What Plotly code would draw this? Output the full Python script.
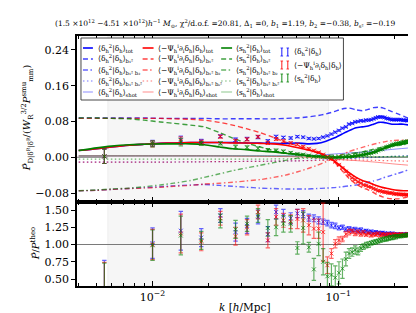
import plotly.graph_objects as go

# ---------------- data ----------------
k_th = [0.004, 0.005, 0.006, 0.0075, 0.009, 0.011, 0.013, 0.016, 0.019, 0.023, 0.027, 0.032,
        0.038, 0.045, 0.052, 0.060, 0.068, 0.077, 0.086, 0.095, 0.105, 0.115, 0.125, 0.135,
        0.145, 0.155, 0.165, 0.175, 0.185, 0.195, 0.210, 0.225, 0.240, 0.260]
blue_tot = [0.015, 0.019, 0.023, 0.027, 0.029, 0.031, 0.032, 0.033, 0.033, 0.033, 0.033, 0.032,
            0.032, 0.031, 0.031, 0.032, 0.030, 0.031, 0.036, 0.043, 0.052, 0.060, 0.066, 0.068,
            0.070, 0.074, 0.078, 0.078, 0.076, 0.074, 0.074, 0.074, 0.072, 0.069]
blue_b1 = [0.088, 0.088, 0.088, 0.088, 0.088, 0.087, 0.087, 0.087, 0.087, 0.086, 0.086, 0.086,
           0.086, 0.086, 0.087, 0.088, 0.090, 0.093, 0.097, 0.102, 0.108, 0.110, 0.106, 0.104,
           0.107, 0.111, 0.112, 0.110, 0.106, 0.102, 0.097, 0.092, 0.087, 0.082]
blue_b2 = [-0.075, -0.074, -0.072, -0.070, -0.068, -0.066, -0.064, -0.062, -0.061, -0.063, -0.065, -0.067,
           -0.069, -0.070, -0.071, -0.071, -0.071, -0.070, -0.069, -0.068, -0.066, -0.064, -0.062, -0.059,
           -0.056, -0.053, -0.050, -0.046, -0.043, -0.040, -0.036, -0.032, -0.028, -0.024]
red_tot = [0.015, 0.019, 0.023, 0.027, 0.029, 0.031, 0.032, 0.033, 0.033, 0.033, 0.032, 0.032,
           0.031, 0.030, 0.027, 0.022, 0.017, 0.011, 0.003, -0.008, -0.022, -0.035, -0.045, -0.052,
           -0.056, -0.061, -0.065, -0.068, -0.070, -0.072, -0.074, -0.075, -0.075, -0.076]
red_b1 = [0.087, 0.087, 0.087, 0.087, 0.087, 0.087, 0.086, 0.085, 0.083, 0.078, 0.072, 0.064,
          0.055, 0.044, 0.034, 0.026, 0.018, 0.010, 0.002, -0.010, -0.030, -0.048, -0.060, -0.068,
          -0.073, -0.079, -0.085, -0.089, -0.092, -0.093, -0.093, -0.091, -0.088, -0.083]
red_b2 = [-0.075, -0.074, -0.072, -0.070, -0.069, -0.067, -0.065, -0.063, -0.060, -0.058, -0.056, -0.053,
          -0.050, -0.045, -0.040, -0.033, -0.026, -0.018, -0.010, -0.002, 0.006, 0.013, 0.018, 0.022,
          0.026, 0.029, 0.032, 0.034, 0.036, 0.037, 0.038, 0.038, 0.038, 0.037]
green_tot = [0.015, 0.021, 0.025, 0.028, 0.029, 0.030, 0.030, 0.030, 0.028, 0.023, 0.019, 0.017,
             0.014, 0.012, 0.009, 0.007, 0.004, 0.002, 0.000, -0.001, 0.000, 0.001, 0.003, 0.005,
             0.008, 0.011, 0.015, 0.019, 0.022, 0.025, 0.028, 0.030, 0.032, 0.034]
green_b1 = [0.088, 0.088, 0.087, 0.086, 0.083, 0.079, 0.076, 0.072, 0.068, 0.055, 0.043, 0.032,
            0.023, 0.015, 0.010, 0.006, 0.003, 0.001, 0.000, 0.001, 0.003, 0.006, 0.009, 0.012,
            0.015, 0.018, 0.021, 0.023, 0.025, 0.027, 0.029, 0.031, 0.033, 0.034]
green_b2 = [-0.075, -0.073, -0.071, -0.069, -0.066, -0.062, -0.058, -0.052, -0.045, -0.037, -0.030, -0.024,
            -0.018, -0.012, -0.007, -0.002, 0.001, 0.003, 0.004, 0.005, 0.006, 0.008, 0.010, 0.012,
            0.014, 0.016, 0.018, 0.020, 0.022, 0.024, 0.026, 0.028, 0.030, 0.032]

k_sm = [0.004, 0.01, 0.02, 0.04, 0.06, 0.08, 0.10, 0.13, 0.16, 0.20, 0.26]
blue_bs2 = [-0.011, -0.011, -0.010, -0.009, -0.008, -0.006, -0.004, -0.002, 0.000, 0.002, 0.004]
red_bs2 = [-0.011, -0.011, -0.010, -0.009, -0.008, -0.007, -0.006, -0.006, -0.007, -0.008, -0.009]
green_bs2 = [-0.004, -0.004, -0.004, -0.004, -0.003, -0.002, -0.001, 0.000, 0.001, 0.002, 0.003]
blue_shot = [0.003, 0.003, 0.003, 0.003, 0.003, 0.005, 0.008, 0.011, 0.014, 0.018, 0.022]
red_shot = [0.003, 0.003, 0.003, 0.002, 0.001, -0.002, -0.005, -0.008, -0.011, -0.015, -0.019]
green_shot = [0.003, 0.003, 0.003, 0.003, 0.003, 0.002, 0.002, 0.002, 0.001, 0.001, 0.001]

k_data = [0.0055, 0.0100, 0.0142, 0.0183, 0.0232, 0.0280, 0.0323, 0.0370, 0.0418, 0.0463,
          0.0507, 0.0555, 0.0603, 0.0648, 0.0695, 0.0740, 0.0785, 0.0830, 0.0875, 0.0920,
          0.0965, 0.1010, 0.1055, 0.1100, 0.1145, 0.1190, 0.1235, 0.1280, 0.1325, 0.1370,
          0.1415, 0.1460, 0.1505, 0.1550, 0.1595, 0.1640, 0.1685, 0.1730, 0.1775, 0.1820,
          0.1865, 0.1910, 0.1955, 0.2000, 0.2045, 0.2090, 0.2135, 0.2180, 0.2225, 0.2270,
          0.2315, 0.2360, 0.2405, 0.2450, 0.2495, 0.2540]
blue_data = [0.002, 0.031, 0.039, 0.036, 0.047, 0.039, 0.041, 0.045, 0.036, 0.046,
             0.044, 0.043, 0.046, 0.045, 0.042, 0.041, 0.042, 0.045, 0.048, 0.052,
             0.056, 0.060, 0.065, 0.068, 0.074, 0.076, 0.079, 0.080, 0.082, 0.081,
             0.083, 0.083, 0.084, 0.086, 0.088, 0.090, 0.090, 0.090, 0.089, 0.087,
             0.086, 0.085, 0.084, 0.084, 0.084, 0.084, 0.084, 0.084, 0.083, 0.083,
             0.083, 0.082, 0.082, 0.081, 0.080, 0.079]
red_data = [0.002, 0.030, 0.037, 0.034, 0.046, 0.036, 0.040, 0.046, 0.032, 0.041,
            0.036, 0.032, 0.029, 0.024, 0.019, 0.015, 0.011, 0.006, 0.001, -0.003,
            -0.010, -0.017, -0.024, -0.032, -0.040, -0.046, -0.050, -0.055, -0.058, -0.062,
            -0.063, -0.066, -0.067, -0.070, -0.072, -0.075, -0.075, -0.077, -0.078, -0.078,
            -0.080, -0.080, -0.080, -0.082, -0.082, -0.082, -0.083, -0.083, -0.083, -0.084,
            -0.084, -0.084, -0.084, -0.084, -0.085, -0.085]
green_data = [0.002, 0.030, 0.034, 0.031, 0.031, 0.023, 0.022, 0.020, 0.016, 0.015,
              0.013, 0.010, 0.007, 0.006, 0.004, 0.002, 0.002, 0.001, 0.000, 0.000,
              0.000, 0.000, 0.000, 0.001, 0.001, 0.002, 0.003, 0.004, 0.005, 0.006,
              0.007, 0.008, 0.009, 0.011, 0.012, 0.015, 0.017, 0.018, 0.021, 0.023,
              0.024, 0.026, 0.028, 0.029, 0.030, 0.031, 0.032, 0.032, 0.034, 0.034,
              0.035, 0.036, 0.036, 0.038, 0.038, 0.039]
err_data = [0.016, 0.0066, 0.0085, 0.0042, 0.0033, 0.0042, 0.0035, 0.0032, 0.0034, 0.0031,
            0.0028, 0.0025, 0.0022, 0.0020, 0.0019, 0.0018, 0.0018, 0.0018, 0.0017, 0.0017,
            0.0017, 0.0017, 0.0017, 0.0017, 0.0017, 0.0017, 0.0017, 0.0016, 0.0016, 0.0016,
            0.0016, 0.0016, 0.0016, 0.0016, 0.0016, 0.0016, 0.0016, 0.0016, 0.0015, 0.0015,
            0.0015, 0.0015, 0.0015, 0.0015, 0.0015, 0.0015, 0.0015, 0.0015, 0.0015, 0.0015,
            0.0015, 0.0015, 0.0015, 0.0015, 0.0015, 0.0015]

blue_ratio = [0.10, 1.02, 1.20, 1.10, 1.42, 1.18, 1.27, 1.40, 1.15, 1.47,
              1.42, 1.38, 1.45, 1.44, 1.39, 1.38, 1.35, 1.33, 1.31, 1.28,
              1.27, 1.24, 1.25, 1.22, 1.23, 1.21, 1.22, 1.20, 1.21, 1.19,
              1.20, 1.18, 1.19, 1.17, 1.18, 1.17, 1.16, 1.17, 1.16, 1.15,
              1.16, 1.15, 1.16, 1.15, 1.14, 1.15, 1.14, 1.15, 1.14, 1.14,
              1.15, 1.14, 1.15, 1.14, 1.15, 1.15]
blue_rerr = [0.67, 0.22, 0.28, 0.13, 0.10, 0.13, 0.11, 0.10, 0.11, 0.10,
             0.09, 0.08, 0.06, 0.05, 0.05, 0.05, 0.05, 0.04, 0.04, 0.04,
             0.04, 0.03, 0.03, 0.03, 0.03, 0.03, 0.03, 0.03, 0.03, 0.02,
             0.02, 0.02, 0.02, 0.02, 0.02, 0.02, 0.02, 0.02, 0.02, 0.02,
             0.02, 0.02, 0.02, 0.02, 0.02, 0.02, 0.02, 0.02, 0.02, 0.02,
             0.02, 0.02, 0.02, 0.02, 0.02, 0.02]
red_ratio = [0.08, 1.00, 1.16, 1.04, 1.38, 1.12, 1.25, 1.47, 1.06, 1.40,
             1.35, 1.33, 1.37, 1.35, 1.28, 1.23, 1.23, 1.18, 0.70, 0.87,
             1.01, 1.06, 1.08, 1.15, 1.18, 1.19, 1.16, 1.18, 1.15, 1.17,
             1.14, 1.16, 1.13, 1.15, 1.14, 1.16, 1.13, 1.15, 1.14, 1.13,
             1.15, 1.14, 1.13, 1.15, 1.14, 1.13, 1.14, 1.15, 1.14, 1.13,
             1.14, 1.15, 1.14, 1.14, 1.15, 1.14]
red_rerr = [0.66, 0.22, 0.28, 0.13, 0.10, 0.13, 0.11, 0.10, 0.11, 0.12,
            0.10, 0.10, 0.14, 0.17, 0.14, 0.14, 0.14, 0.42, 0.12, 0.07,
            0.06, 0.05, 0.04, 0.04, 0.04, 0.03, 0.03, 0.03, 0.03, 0.03,
            0.02, 0.02, 0.02, 0.02, 0.02, 0.02, 0.02, 0.02, 0.02, 0.02,
            0.02, 0.02, 0.02, 0.02, 0.02, 0.02, 0.02, 0.02, 0.02, 0.02,
            0.02, 0.02, 0.02, 0.02, 0.02, 0.02]
green_ratio = [0.07, 0.99, 1.13, 1.06, 1.34, 1.22, 1.30, 1.42, 1.24, 1.25,
               1.30, 1.30, 0.95, 1.24, 0.96, 0.64, 1.01, 0.75, 0.54, 0.56,
               0.52, 0.59, 0.65, 0.79, 0.87, 0.89, 0.92, 0.90, 0.95, 0.97,
               0.99, 1.00, 1.02, 1.03, 1.04, 1.05, 1.06, 1.07, 1.08, 1.08,
               1.09, 1.10, 1.10, 1.11, 1.11, 1.12, 1.12, 1.12, 1.13, 1.13,
               1.13, 1.14, 1.14, 1.14, 1.14, 1.15]
green_rerr = [0.66, 0.22, 0.28, 0.13, 0.10, 0.13, 0.11, 0.10, 0.12, 0.12,
              0.12, 0.12, 0.09, 0.23, 0.07, 0.16, 0.17, 0.19, 0.20, 0.16,
              0.17, 0.16, 0.14, 0.10, 0.07, 0.06, 0.06, 0.05, 0.05, 0.04,
              0.04, 0.04, 0.03, 0.03, 0.03, 0.03, 0.03, 0.03, 0.03, 0.03,
              0.03, 0.03, 0.03, 0.03, 0.03, 0.02, 0.02, 0.02, 0.02, 0.02,
              0.02, 0.02, 0.02, 0.02, 0.02, 0.02]

SHADE_KMIN, SHADE_KMAX = 0.00574, 0.0888
top_ticks = [-0.08, 0.0, 0.08, 0.16, 0.24]
top_ticktext = ["\u22120.08", "0.00", "0.08", "0.16", "0.24"]
bot_ticks = [0.5, 0.75, 1.0, 1.25, 1.5]
bot_ticktext = ["0.50", "0.75", "1.00", "1.25", "1.50"]
x_ticks = [0.01, 0.1]
x_ticktext = ["10<sup>\u22122</sup>", "10<sup>\u22121</sup>"]
x_minor = [0.004, 0.005, 0.006, 0.007, 0.008, 0.009, 0.02, 0.03, 0.04, 0.05, 0.06, 0.07, 0.08, 0.09, 0.2]

title_text = ("(1.5 \u00d710<sup>12</sup> \u22124.51 \u00d710<sup>12</sup>)<i>h</i><sup>\u22121</sup> <i>M</i><sub>\u2299</sub>, "
              "\u03c7<sup>2</sup>/d.o.f. =20.81, \u0394<sub>1</sub> =0, <i>b</i><sub>1</sub> =1.19, "
              "<i>b</i><sub>2</sub> =\u22120.38, <i>b</i><sub>s\u00b2</sub> =\u22120.19")

# ---------------- style ----------------
FONT = "DejaVu Serif"
BLUE, RED, GREEN = (0, 0, 255), (255, 0, 0), (0, 128, 0)


def rgba(c, a):
    return "rgba(%d,%d,%d,%.2f)" % (c[0], c[1], c[2], a)


DASH_B1 = "5px,3px"
DASH_B2 = "5px,2.5px,1.5px,2.5px"
DASH_BS = "1.5px,2.5px"

fig = go.Figure()

LOGR = [-2.407, -0.586]
TOPR = [-0.1001, 0.2713]
BOTR = [0.399, 1.616]

# shaded region + reference lines
for yref, yr in (("y", TOPR), ("y2", BOTR)):
    fig.add_shape(type="rect", xref="x", yref=yref, x0=SHADE_KMIN, x1=SHADE_KMAX, y0=yr[0], y1=yr[1],
                  fillcolor="#f6f6f6", line=dict(color="#e6e6e6", width=0.6), layer="below")
fig.add_shape(type="line", xref="paper", yref="y", x0=0, x1=1, y0=0, y1=0,
              line=dict(color="#7a7a7a", width=1.2), layer="below")
fig.add_shape(type="line", xref="paper", yref="y2", x0=0, x1=1, y0=1, y1=1,
              line=dict(color="#7a7a7a", width=1.2), layer="below")


def line(x, y, color, alpha, width, dash, ax="y"):
    fig.add_trace(go.Scatter(x=x, y=y, mode="lines", showlegend=False, hoverinfo="skip",
                             line=dict(color=rgba(color, alpha), width=width, dash=dash, shape="spline",
                                       smoothing=0.6), xaxis="x", yaxis=ax))


# theory curves
for col, b1, b2, bs, shot in ((BLUE, blue_b1, blue_b2, blue_bs2, blue_shot),
                              (RED, red_b1, red_b2, red_bs2, red_shot),
                              (GREEN, green_b1, green_b2, green_bs2, green_shot)):
    line(k_th, b1, col, 0.75, 1.4, DASH_B1)
    line(k_th, b2, col, 0.6, 1.4, DASH_B2)
    line(k_sm, bs, col, 0.55, 1.2, DASH_BS)
    line(k_sm, shot, col, 0.45, 1.0, "solid")
for col, tot in ((BLUE, blue_tot), (RED, red_tot), (GREEN, green_tot)):
    line(k_th, tot, col, 1.0, 1.6, "solid")


def pts(y, err, color, ax, xa):
    fig.add_trace(go.Scatter(x=k_data, y=y, mode="markers", showlegend=False, hoverinfo="skip",
                             marker=dict(symbol="x-thin", size=4, color=rgba(color, 0.7),
                                         line=dict(width=1, color=rgba(color, 0.7))),
                             error_y=dict(type="data", array=err, visible=True, thickness=1.2, width=2.2,
                                          color=rgba(color, 0.6)),
                             xaxis=xa, yaxis=ax))


pts(blue_data, err_data, BLUE, "y", "x")
pts(red_data, err_data, RED, "y", "x")
pts(green_data, err_data, GREEN, "y", "x")
pts(blue_ratio, blue_rerr, BLUE, "y2", "x2")
pts(red_ratio, red_rerr, RED, "y2", "x2")
pts(green_ratio, green_rerr, GREEN, "y2", "x2")

# dummy traces for right-side inside tick axes
fig.add_trace(go.Scatter(x=[None], y=[None], xaxis="x", yaxis="y3", showlegend=False))
fig.add_trace(go.Scatter(x=[None], y=[None], xaxis="x2", yaxis="y4", showlegend=False))

axfont = dict(family=FONT, size=11, color="black")
xcommon = dict(type="log", range=LOGR, showgrid=False, zeroline=False, showline=True, linecolor="black",
               linewidth=1.5, mirror="ticks", ticks="inside", ticklen=5, tickwidth=1, tickcolor="black",
               tickvals=x_ticks, ticktext=x_ticktext, tickfont=axfont,
               minor=dict(tickvals=x_minor, ticks="inside", ticklen=3, tickwidth=0.8, tickcolor="black",
                          showgrid=False))
ycommon = dict(showgrid=False, zeroline=False, showline=True, linecolor="black", linewidth=1.5, mirror=True,
               ticks="outside", ticklen=4, tickwidth=1, tickcolor="black", tickfont=axfont)
yright = dict(showgrid=False, zeroline=False, showline=False, ticks="inside", ticklen=4, tickwidth=1,
              tickcolor="black", showticklabels=False, side="right")

TOP_DOM = [0.336, 1.0]
BOT_DOM = [0.0, 0.336]

fig.update_layout(
    width=416, height=313, margin=dict(l=69, r=7, t=28, b=35),
    paper_bgcolor="white", plot_bgcolor="white", showlegend=False,
    font=dict(family=FONT, size=11, color="black"),
    xaxis=dict(xcommon, anchor="y", showticklabels=False, matches="x2"),
    xaxis2=dict(xcommon, anchor="y2"),
    yaxis=dict(ycommon, domain=TOP_DOM, range=TOPR, tickvals=top_ticks, ticktext=top_ticktext, anchor="x"),
    yaxis2=dict(ycommon, domain=BOT_DOM, range=BOTR, tickvals=bot_ticks, ticktext=bot_ticktext, anchor="x2"),
    yaxis3=dict(yright, overlaying="y", range=TOPR, tickvals=top_ticks, anchor="x"),
    yaxis4=dict(yright, overlaying="y2", range=BOTR, tickvals=bot_ticks, anchor="x2"),
)


# ---------------- text annotations ----------------
def px2p(px, py):
    return (px - 69) / 340.0, (278 - py) / 250.0


def ann(px, py, text, size, xanchor="left", angle=0):
    x, y = px2p(px, py)
    fig.add_annotation(x=x, y=y, xref="paper", yref="paper", text=text, showarrow=False,
                       xanchor=xanchor, yanchor="middle", textangle=angle,
                       font=dict(family=FONT, size=size, color="black"))


ann(45, 16, title_text, 7.5, xanchor="left")
ann(238, 299, "<i>k</i> [<i>h</i>/Mpc]", 10.5, xanchor="center")
ann(19, 110, "<i>P\u0302</i><sub>D|\u03b4<sup>R</sup>|\u03b4<sup>R</sup></sub>/(<i>W</i><sub>R</sub><sup>3/2</sup><i>P</i><sup>smu</sup><sub>mm</sub>)",
    10, xanchor="center", angle=-90)
ann(27, 235, "<i>P\u0302</i>/<i>P</i><sup>theo</sup>", 10, xanchor="center", angle=-90)

# ---------------- legend (drawn manually) ----------------
x0, y0 = px2p(73, 30)
x1, y1 = px2p(337, 92)
fig.add_shape(type="rect", xref="paper", yref="paper", x0=x0, x1=x1, y0=y1, y1=y0,
              fillcolor="white", line=dict(color="#333333", width=0.9), layer="above")

rows_py = [40, 51, 62, 73, 84]
suffix = ["tot", "b\u2081\u00b2", "b\u2081\u00b2 b\u2082", "b\u2081\u00b2 b\u209b\u00b2", "shot"]
styles = [(1.0, 1.6, "solid"), (0.75, 1.4, DASH_B1), (0.6, 1.4, DASH_B2), (0.55, 1.2, DASH_BS),
          (0.45, 1.0, "solid")]
base = ["\u27e8\u03b4<sub>h</sub><sup>2</sup>|\u03b4<sub>h</sub>\u27e9",
        "\u27e8\u2212\u03a8<sub>h</sub><sup>i</sup>\u2202<sub>i</sub>\u03b4<sub>h</sub>|\u03b4<sub>h</sub>\u27e9",
        "\u27e8s<sub>h</sub><sup>2</sup>|\u03b4<sub>h</sub>\u27e9"]
cols = [(BLUE, 75, 85, 88), (RED, 135, 146, 148), (GREEN, 214, 225, 227)]
for (col, lx0, lx1, tx), b in zip(cols, base):
    for py, suf, (a, w, d) in zip(rows_py, suffix, styles):
        xa, ya = px2p(lx0, py)
        xb, _ = px2p(lx1, py)
        fig.add_shape(type="line", xref="paper", yref="paper", x0=xa, x1=xb, y0=ya, y1=ya,
                      line=dict(color=rgba(col, a), width=w, dash=d), layer="above")
        ann(tx, py, b + "<sub>" + suf + "</sub>", 7.5)

rows4 = [44, 57, 70]
for col, py, b in zip((BLUE, RED, GREEN), rows4, base):
    for ex in (275, 281):
        xa, ytop = px2p(ex, py - 4)
        _, ybot = px2p(ex, py + 4)
        xl, _ = px2p(ex - 1.3, py)
        xr, _ = px2p(ex + 1.3, py)
        c = rgba(col, 0.75)
        fig.add_shape(type="line", xref="paper", yref="paper", x0=xa, x1=xa, y0=ybot, y1=ytop,
                      line=dict(color=c, width=1.2), layer="above")
        for yy in (ytop, ybot):
            fig.add_shape(type="line", xref="paper", yref="paper", x0=xl, x1=xr, y0=yy, y1=yy,
                          line=dict(color=c, width=1.0), layer="above")
    ann(285, py, b, 7.5)

fig.write_html("out.html")
